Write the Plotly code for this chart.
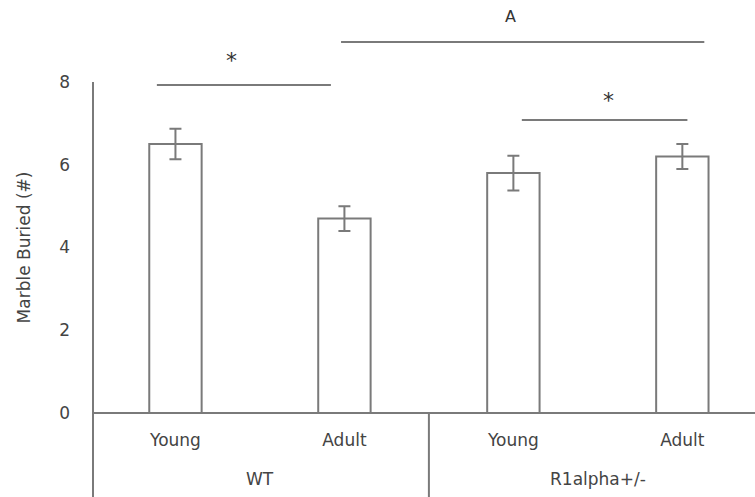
import plotly.graph_objects as go

categories = ["Young", "Adult", "Young", "Adult"]
groups = ["WT", "R1alpha+/-"]
values = [6.5, 4.7, 5.8, 6.2]
errors = [0.37, 0.3, 0.42, 0.3]
y_ticks = [0, 2, 4, 6, 8]

# significance brackets: x start/end (category units), level and label position
sig_x0 = [-0.11, 0.98, 2.05]
sig_x1 = [0.92, 3.13, 3.03]
sig_label_x = [0.33, 1.985, 2.565]
sig_y = [(413 - 85) / 331, (413 - 42) / 331, (413 - 120) / 331]
sig_label_y = [(413 - 60) / 331, (413 - 17) / 331, (413 - 101) / 331]
sig_labels = ["*", "A", "*"]
sig_sizes = [22, 16, 22]

gray = "#7a7a7a"
txt = "#444444"
font = "DejaVu Sans, Liberation Sans, Arial, sans-serif"
FS = 17

xs = list(range(len(categories)))

fig = go.Figure()
fig.add_trace(go.Bar(
    x=xs, y=values, width=0.31,
    marker=dict(color="white", line=dict(color=gray, width=2)),
    error_y=dict(type="data", array=errors, color=gray, thickness=2, width=6),
    showlegend=False,
))

fig.update_layout(
    width=755, height=497,
    margin=dict(l=93, r=0, t=82, b=84),
    paper_bgcolor="white", plot_bgcolor="white",
    font=dict(family=font, size=FS, color=txt),
    xaxis=dict(range=[-0.488, 3.43], tickvals=xs, ticktext=categories,
               showgrid=False, zeroline=False, showline=False, ticks="",
               ticklabelstandoff=15, tickfont=dict(size=FS, color=txt)),
    yaxis=dict(range=[0, 8], tickvals=y_ticks, showgrid=False, zeroline=False,
               showline=False, ticks="", ticklabelstandoff=22,
               tickfont=dict(size=FS, color=txt),
               title=dict(text="Marble Buried (#)", standoff=24,
                          font=dict(size=FS, color=txt))),
)

# axis lines
fig.add_shape(type="line", xref="paper", yref="paper", x0=0, x1=1, y0=0, y1=0,
              line=dict(color=gray, width=2))
fig.add_shape(type="line", xref="paper", yref="paper", x0=0, x1=0, y0=1, y1=-84/331,
              line=dict(color=gray, width=2))
fig.add_shape(type="line", xref="x", yref="paper", x0=1.5, x1=1.5, y0=0, y1=-84/331,
              line=dict(color=gray, width=2))

# group labels
for i, g in enumerate(groups):
    fig.add_annotation(x=0.5 + 2 * i, y=(413 - 479) / 331, xref="x", yref="paper",
                       text=g, showarrow=False, yanchor="middle",
                       font=dict(size=FS, color=txt))

# significance brackets
for x0, x1, lx, yl, ly, lab, sz in zip(sig_x0, sig_x1, sig_label_x, sig_y,
                                       sig_label_y, sig_labels, sig_sizes):
    fig.add_shape(type="line", xref="x", yref="paper", x0=x0, x1=x1, y0=yl, y1=yl,
                  line=dict(color=gray, width=2))
    fig.add_annotation(x=lx, y=ly, xref="x", yref="paper",
                       text=lab, showarrow=False, yanchor="middle",
                       font=dict(size=sz, color="#333333"))

fig.write_html("out.html")
